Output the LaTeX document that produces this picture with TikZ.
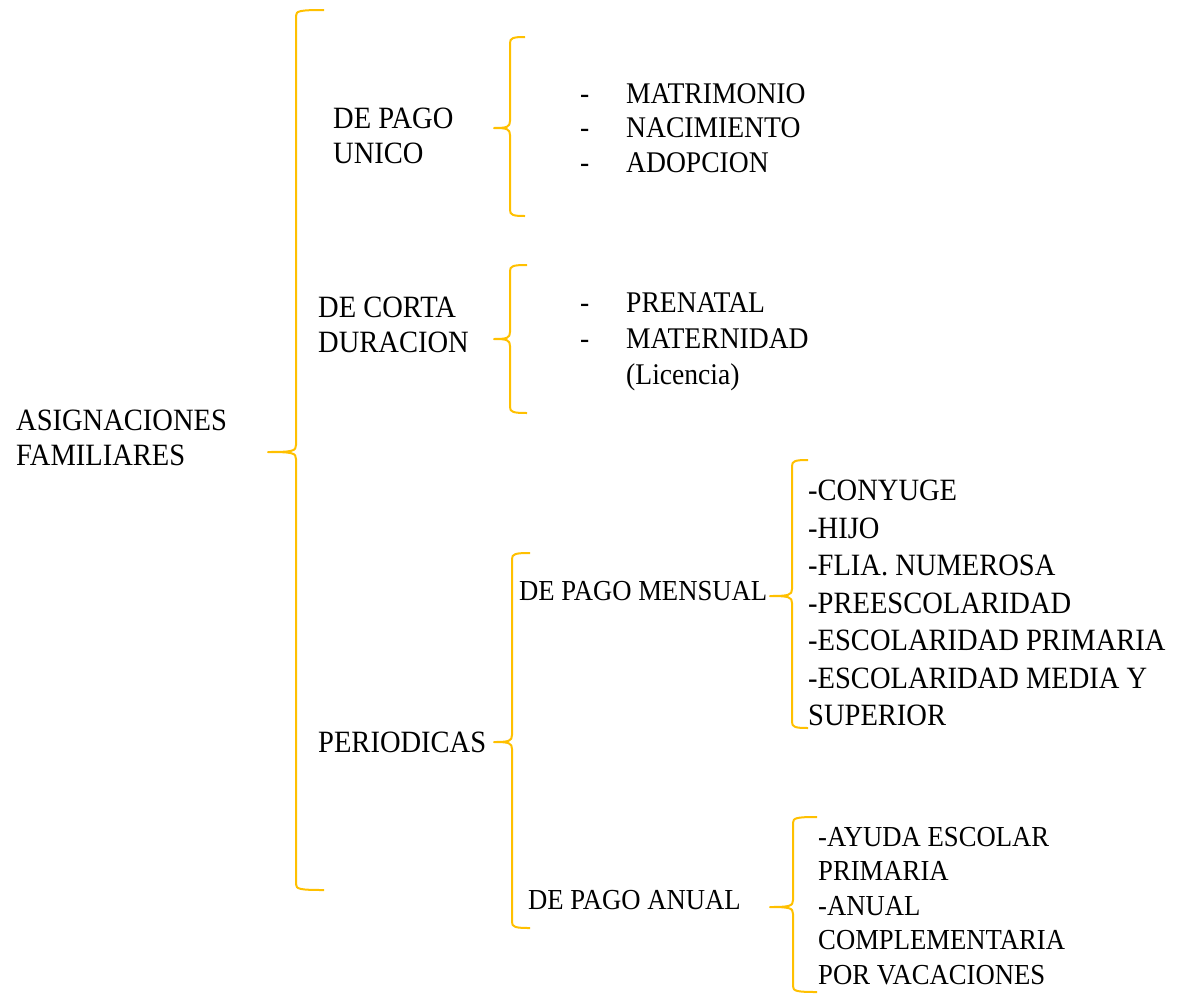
\documentclass[tikz,border=0pt]{standalone}
\usepackage{fontspec}
\setmainfont[FakeStretch=0.92]{Liberation Serif}
\usepackage{tikz}
\usetikzlibrary{positioning}
\definecolor{llaveamarilla}{RGB}{255,192,0}

\begin{document}
\begin{tikzpicture}[
            x=1pt, y=-1pt,
            every node/.style={ inner sep=0pt, anchor=west, align=left, font=\fontsize{31}{35}\selectfont },
            llave/.style={ draw=llaveamarilla, line width=2pt, line join=round },
            lista/.style={ font=\fontsize{30}{34.5}\selectfont },
            chica/.style={ font=\fontsize{29}{34.5}\selectfont }
        ]
        \useasboundingbox (0,0) rectangle (1191,994);

        % llaves: x / arriba / punta y / abajo / punta x / extremo derecho
        \foreach \x/\t/\m/\b/\p/\r in {296/10/452/890/268/324, 510/37/128/216/494/525,
                510/265/339/413/494/527, 512/553/742/928/494/530,
                792/460/596/728/770/808, 793/817/907/992/770/817}
            \draw[llave] (\r,\t) .. controls (\x+3,\t) and (\x,\t+1) .. (\x,\t+6)
                -- (\x,\m-7) .. controls (\x,\m-1) and (\x-3,\m) .. (\p,\m)
                .. controls (\x-3,\m) and (\x,\m+1) .. (\x,\m+7)
                -- (\x,\b-6) .. controls (\x,\b-1) and (\x+3,\b) .. (\r,\b);

        \node (asig) at (16,438) {ASIGNACIONES\\FAMILIARES};

        \node (unico) at (333,136) {DE PAGO\\UNICO};
        \node[lista] (unicolista) at (580,128)
            {\makebox[46pt][l]{-}MATRIMONIO\\\makebox[46pt][l]{-}NACIMIENTO\\\makebox[46pt][l]{-}ADOPCION};

        \node (corta) at (318,325) {DE CORTA\\DURACION};
        \node[lista, font=\fontsize{30}{36}\selectfont] (cortalista) at (580,342)
            {\makebox[46pt][l]{-}PRENATAL\\\makebox[46pt][l]{-}MATERNIDAD\\\makebox[46pt][l]{}(Licencia)};

        \node (periodicas) at (318,742) {PERIODICAS};
        \node[chica] (mensual) at (519,591) {DE PAGO MENSUAL};
        \node[font=\fontsize{31}{37.5}\selectfont] (mensuallista) at (808,603)
            {-CONYUGE\\-HIJO\\-FLIA. NUMEROSA\\-PREESCOLARIDAD\\-ESCOLARIDAD PRIMARIA\\-ESCOLARIDAD MEDIA Y\\SUPERIOR};

        \node[chica] (anual) at (528,900) {DE PAGO ANUAL};
        \node[chica] (anuallista) at (818,906)
            {-AYUDA ESCOLAR\\PRIMARIA\\-ANUAL\\COMPLEMENTARIA\\POR VACACIONES};
    \end{tikzpicture}
\end{document}
